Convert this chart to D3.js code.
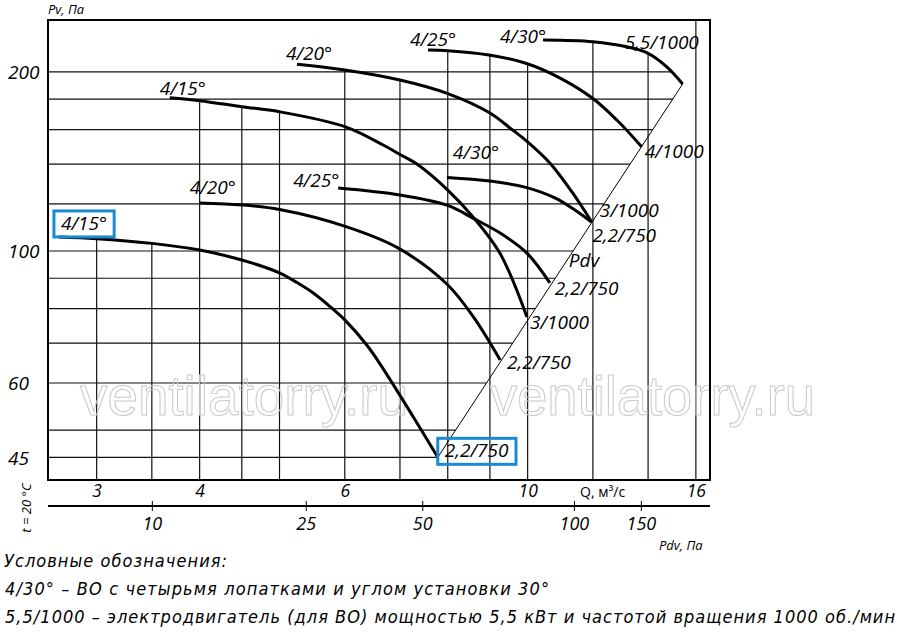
<!DOCTYPE html>
<html>
<head>
<meta charset="utf-8">
<script src="https://cdn.jsdelivr.net/npm/d3@7"></script>
<style>
    body { margin: 0; background: #fff; }
    svg { display: block; }
    .lbl { font-family: "Open Sans", sans-serif; font-style: italic; fill: #000; }
    .legend { font-family: "Liberation Sans Narrow", "DejaVu Sans Condensed", sans-serif; font-style: italic; font-size: 18px; fill: #000; }
</style>
</head>
<body>
<svg id="chart" width="900" height="637"></svg>
<script>
// Flow axis Q, m3/s (log)
const flowTicks = [3, 4, 6, 10, 16];
const flowGrid = [3, 3.5, 4, 4.5, 5, 6, 7, 8, 9, 10, 12, 14, 16];

// Static pressure axis Pv, Pa (log)
const pressureTicks = [45, 60, 100, 200];
const pressureGrid = [45, 50, 60, 70, 80, 90, 100, 120, 140, 160, 180, 200];

// Dynamic pressure scale under the chart, and the flow each mark sits at
const pdvTicks = [10, 25, 50, 100, 150];
const pdvAtFlow = [3.5, 5.38, 7.45, 11.38, 13.72];

// Fan curves [Q, Pv] - 750 rpm group
const curve750_15 = [[2.7, 105.6], [3.0, 104.9], [3.5, 103], [4.0, 100.4], [4.5, 96.6], [4.78, 94.1],
    [5.0, 91.9], [5.25, 88.5], [5.5, 84.9], [5.76, 80.6], [6.0, 76.6], [6.38, 69.5], [6.62, 64.6],
    [7.26, 52.7], [7.78, 45]];
const curve750_20 = [[4.0, 120.4], [4.5, 119.5], [5.0, 117.4], [6.02, 109.9], [6.96, 101.2],
    [7.98, 88], [8.61, 77.2], [9.26, 65.6]];
const curve750_25 = [[5.89, 127.6], [7.0, 124.2], [8.0, 119.3], [8.58, 113.6], [9.26, 107.2],
    [9.98, 99.2], [10.64, 88.4]];
const curve750_30 = [[7.98, 132.9], [9.0, 131.1], [9.95, 127.9], [10.79, 122.8], [11.41, 117.2],
    [11.95, 111.9]];

// Fan curves [Q, Pv] - 1000 rpm group
const curve1000_15 = [[3.68, 181], [4.0, 178.9], [4.5, 174.8], [5.0, 171.4], [6.0, 161.8], [6.68, 150.7],
    [7.0, 145.3], [7.34, 140], [8.0, 126.6], [8.58, 114.2], [9.26, 99], [9.98, 77.5]];
const curve1000_20 = [[5.25, 206], [6.0, 201.5], [7.0, 193.8], [8.0, 183.9], [9.0, 170.6], [9.59, 159.7],
    [9.95, 153.5], [10.64, 140.6], [11.34, 125.2], [11.96, 111.9]];
const curve1000_25 = [[7.57, 217.7], [8.0, 217.1], [8.98, 213.5], [9.95, 206.8], [10.95, 195.3],
    [11.99, 180.6], [12.83, 166], [13.75, 149.7]];
const curve1000_30 = [[10.44, 226.3], [12.0, 224.8], [13.19, 220.4], [14.0, 214.9], [14.75, 204],
    [15.42, 190.9]];

// Pdv line joining the curve ends
const pdvLine = [[7.78, 45], [15.42, 190.9]];

const bladeNames = ["4/15°", "4/20°", "4/25°", "4/30°", "4/15°", "4/20°", "4/25°", "4/30°"];
const motorNames = ["2,2/750", "2,2/750", "2,2/750", "2,2/750", "3/1000", "3/1000", "4/1000", "5,5/1000"];
const boxedCurve = 0;

const curveSeries = [curve750_15, curve750_20, curve750_25, curve750_30,
    curve1000_15, curve1000_20, curve1000_25, curve1000_30];

const curves = curveSeries.map((points, i) => ({
    points: points,
    blade: bladeNames[i],
    motor: motorNames[i]
}));

// label offsets from curve start / end, pixels
const labelOffsets = [
    { s: [2, -7], e: [7, 0] },
    { s: [-10, -9], e: [7, 9] },
    { s: [-45, -1], e: [5, 12] },
    { s: [6, -19], e: [1, 20] },
    { s: [-10, -3], e: [3, 12] },
    { s: [-11, -4], e: [8, -5] },
    { s: [-18, -4], e: [3, 11] },
    { s: [-43, 3], e: [-58, -35] }
];

const svg = d3.select("#chart");
const plotLeft = 48, plotRight = 710, plotTop = 20, plotBottom = 480;

const x = d3.scaleLog().domain([2.6187, 16.644]).range([plotLeft, plotRight]);
const y = d3.scaleLog().domain([41.22, 244.5]).range([plotBottom, plotTop]);
const pdvScale = d3.scaleLog().domain(pdvTicks).range(pdvAtFlow.map(x));

const line = d3.line()
    .x(d => x(d[0]))
    .y(d => y(d[1]))
    .curve(d3.curveCatmullRom.alpha(0.5));

const area = d3.area()
    .x(d => x(d[0]))
    .y0(plotBottom)
    .y1(d => y(d[1]))
    .curve(d3.curveCatmullRom.alpha(0.5));

svg.append("rect").attr("width", 900).attr("height", 637).attr("fill", "#fff");

// clip for vertical grid: below the curve envelope
const defs = svg.append("defs");
const vclip = defs.append("clipPath").attr("id", "vclip");
curves.forEach(c => vclip.append("path").attr("d", area(c.points)));
const lastTop = curve1000_30[curve1000_30.length - 1];
vclip.append("rect")
    .attr("x", x(lastTop[0])).attr("y", plotTop)
    .attr("width", plotRight - x(lastTop[0])).attr("height", plotBottom - plotTop);

// clip for horizontal grid: left of the Pdv line
const d0 = [x(pdvLine[0][0]), y(pdvLine[0][1])];
const d1 = [x(pdvLine[1][0]), y(pdvLine[1][1])];
const extX = d0[0] - (plotBottom - d0[1]) * (d1[0] - d0[0]) / (d0[1] - d1[1]);
const hclipPath = `M${plotLeft},${plotTop}L${x(curve1000_30[0][0])},${plotTop}` +
    line(curve1000_30).replace(/^M/, "L") +
    `L${d0[0]},${d0[1]}L${extX},${plotBottom}L${plotLeft},${plotBottom}Z`;
defs.append("clipPath").attr("id", "hclip").append("path").attr("d", hclipPath);

// grid
svg.append("g")
    .attr("clip-path", "url(#vclip)")
    .attr("stroke", "#111")
    .attr("stroke-width", 1.2)
    .selectAll("line")
    .data(flowGrid)
    .join("line")
    .attr("x1", d => x(d)).attr("x2", d => x(d))
    .attr("y1", plotTop).attr("y2", plotBottom);

svg.append("g")
    .attr("clip-path", "url(#hclip)")
    .attr("stroke", "#111")
    .attr("stroke-width", 1.2)
    .selectAll("line")
    .data(pressureGrid)
    .join("line")
    .attr("x1", plotLeft).attr("x2", plotRight)
    .attr("y1", d => y(d)).attr("y2", d => y(d));

// watermark
[[80, 328], [490, 325]].forEach(([wx, wl]) => {
    svg.append("text")
        .attr("x", wx).attr("y", 415)
        .attr("textLength", wl)
        .attr("lengthAdjust", "spacingAndGlyphs")
        .style("font-family", "'Liberation Sans', Arial, sans-serif")
        .style("font-size", "55px")
        .attr("fill", "none")
        .attr("stroke", "#c9c9c9")
        .attr("stroke-width", 1)
        .text("ventilatorry.ru");
});

// frame
svg.append("rect")
    .attr("x", plotLeft).attr("y", plotTop)
    .attr("width", plotRight - plotLeft).attr("height", plotBottom - plotTop)
    .attr("fill", "none").attr("stroke", "#000").attr("stroke-width", 2);

// Pdv line
svg.append("path")
    .attr("d", d3.line().x(d => x(d[0])).y(d => y(d[1]))(pdvLine))
    .attr("stroke", "#000").attr("stroke-width", 1).attr("fill", "none");

svg.append("text")
    .attr("class", "lbl")
    .attr("x", d0[0] + (d1[0] - d0[0]) * 0.51 + 6)
    .attr("y", d0[1] + (d1[1] - d0[1]) * 0.51)
    .style("font-size", "19px")
    .text("Pdv");

// curves
svg.append("g")
    .selectAll("path")
    .data(curves)
    .join("path")
    .attr("d", d => line(d.points))
    .attr("fill", "none")
    .attr("stroke", "#000")
    .attr("stroke-width", 3);

// curve labels
curves.forEach((c, i) => {
    const first = c.points[0];
    const last = c.points[c.points.length - 1];
    const off = labelOffsets[i];
    const startLbl = svg.append("text")
        .attr("class", "lbl")
        .attr("x", x(first[0]) + off.s[0])
        .attr("y", y(first[1]) + off.s[1])
        .style("font-size", "19px")
        .text(c.blade);
    const endLbl = svg.append("text")
        .attr("class", "lbl")
        .attr("x", x(last[0]) + off.e[0])
        .attr("y", y(last[1]) + off.e[1])
        .style("font-size", "19px")
        .text(c.motor);
    if (i === boxedCurve) {
        [startLbl, endLbl].forEach(t => {
            const b = t.node().getBBox();
            svg.append("rect")
                .attr("x", b.x - 7).attr("y", b.y + 1)
                .attr("width", b.width + 14).attr("height", b.height)
                .attr("fill", "none")
                .attr("stroke", "#1a8ad4")
                .attr("stroke-width", 3);
        });
    }
});

// axes
const yAxis = svg.append("g")
    .attr("transform", `translate(${plotLeft},0)`)
    .call(d3.axisLeft(y).tickValues(pressureTicks).tickFormat(d3.format("d")).tickSize(0));
yAxis.select(".domain").remove();
yAxis.selectAll("text")
    .attr("class", "lbl")
    .attr("x", 8 - plotLeft)
    .attr("dy", "0.36em")
    .attr("text-anchor", "start")
    .style("font-size", "19px");

const xAxis = svg.append("g")
    .attr("transform", `translate(0,${plotBottom})`)
    .call(d3.axisBottom(x).tickValues(flowTicks).tickFormat(d3.format("d")).tickSize(0));
xAxis.select(".domain").remove();
xAxis.selectAll("text")
    .attr("class", "lbl")
    .attr("y", 17).attr("dy", 0)
    .style("font-size", "17.5px");

svg.append("line")
    .attr("x1", plotLeft).attr("x2", plotRight)
    .attr("y1", 506).attr("y2", 506)
    .attr("stroke", "#000").attr("stroke-width", 2);

const pdvAxis = svg.append("g")
    .attr("transform", "translate(0,501)")
    .call(d3.axisBottom(pdvScale).tickValues(pdvTicks).tickFormat(d3.format("d")).tickSize(10));
pdvAxis.select(".domain").remove();
pdvAxis.selectAll("line").attr("stroke", "#000").attr("stroke-width", 1);
pdvAxis.selectAll("text")
    .attr("class", "lbl")
    .attr("y", 29).attr("dy", 0)
    .style("font-size", "18px");

// axis titles
svg.append("text").attr("class", "lbl").attr("x", 48).attr("y", 14)
    .style("font-size", "13px").text("Pv, Па");
svg.append("text").attr("x", 580).attr("y", 497)
    .style("font-family", "'Open Sans', sans-serif").style("font-size", "14px")
    .text("Q, м³/с");
svg.append("text").attr("class", "lbl").attr("x", 659).attr("y", 550)
    .style("font-size", "13px").text("Pdv, Па");
svg.append("text").attr("class", "lbl")
    .attr("transform", "translate(31,508) rotate(-90)")
    .attr("text-anchor", "middle")
    .style("font-size", "13px").text("t = 20 °C");

// legend
const legendLines = [
    ["Условные обозначения:", 4, 567, 223],
    ["4/30° – ВО с четырьмя лопатками и углом установки 30°", 5, 595, 544],
    ["5,5/1000 – электродвигатель (для ВО) мощностью 5,5 кВт и частотой вращения 1000 об./мин", 5, 623, 890]
];
legendLines.forEach(([txt, lx, ly, len]) => {
    svg.append("text")
        .attr("class", "legend")
        .attr("x", lx).attr("y", ly)
        .attr("textLength", len)
        .attr("lengthAdjust", "spacing")
        .text(txt);
});
</script>
</body>
</html>
